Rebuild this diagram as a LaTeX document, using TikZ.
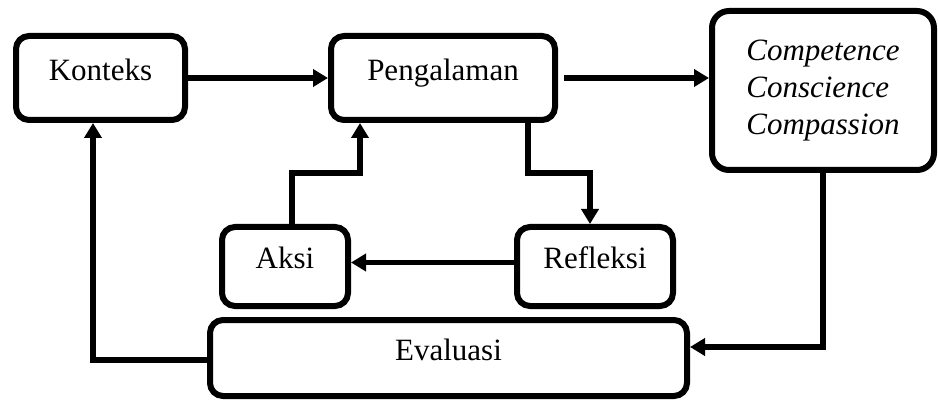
\documentclass[tikz,border=0pt]{standalone}
\usepackage{fontspec}
\setmainfont{Liberation Serif}
\usetikzlibrary{arrows.meta}

\tikzset{
  blok/.style={draw, line width=6pt, rounded corners=13pt, font=\fontsize{31}{37}\selectfont, text height=0.68em, text depth=0.25em},
  blokbesar/.style={draw, line width=6pt, rounded corners=17pt, font=\fontsize{31}{37}\selectfont\itshape, align=left},
  panah/.style={line width=5.5pt, -{Triangle[length=15pt,width=17pt]}},
  garis/.style={line width=5.5pt}
}

\begin{document}
\begin{tikzpicture}[x=1pt,y=-1pt]
\useasboundingbox (0,0) rectangle (938,401);
\node[blok, minimum width=169pt, minimum height=84pt] (konteks) at (100.5,78) {Konteks};
\node[blok, minimum width=224pt, minimum height=84pt] (pengalaman) at (443,78) {Pengalaman};
\node[blokbesar, minimum width=222pt, minimum height=159pt] (ccc) at (823,90.5) {Competence\\Conscience\\Compassion};
\node[blok, minimum width=126pt, minimum height=79pt] (aksi) at (285,266.5) {Aksi};
\node[blok, minimum width=156pt, minimum height=79pt] (refleksi) at (595,266.5) {Refleksi};
\node[blok, minimum width=477pt, minimum height=76pt] (evaluasi) at (448.5,358) {Evaluasi};

\coordinate (a1) at (292,173);
\coordinate (a2) at (360,173);
\coordinate (p1) at (528,173);
\coordinate (p2) at (590,173);
\coordinate (e1) at (93,360);

\draw[panah] (konteks.east) -- (pengalaman.west);
\draw[panah, shorten <=6pt] (pengalaman.east) -- (pengalaman.east -| ccc.west);
\draw[panah] (aksi.north -| a1) -- (a1) -- (a2) -- (a2 |- pengalaman.south);
\draw[panah] (pengalaman.south -| p1) -- (p1) -- (p2) -- (p2 |- refleksi.north);
\draw[panah] ([yshift=4pt]refleksi.west) -- ([yshift=4pt]aksi.east);
\draw[panah] (ccc.south) |- ([yshift=11pt]evaluasi.east);
\draw[panah] (evaluasi.west |- e1) -- (e1) -- (e1 |- konteks.south);
\end{tikzpicture}
\end{document}
